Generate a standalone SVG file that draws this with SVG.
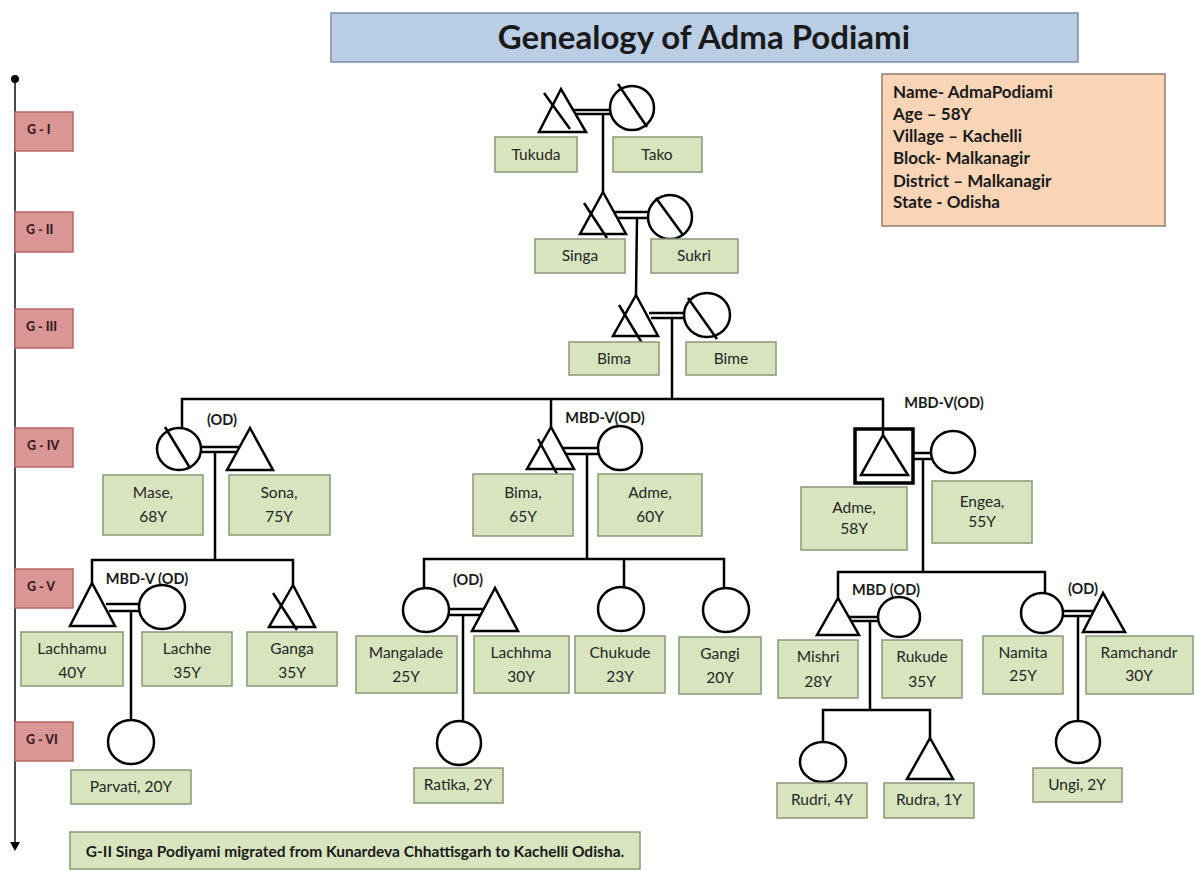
<svg xmlns="http://www.w3.org/2000/svg" width="1195" height="871" viewBox="0 0 1195 871">
<style>
.ln{stroke:#000;stroke-width:2.5;fill:none}
.sym{stroke:#000;stroke-width:2.5;fill:#fff}
.bx{fill:#d7e4bd;stroke:#8a9878;stroke-width:1.5}
.gb{fill:#d99694;stroke:#b86764;stroke-width:1.5}
.t{font-family:Lato,"Liberation Sans",sans-serif;font-size:15.5px;fill:#262626;text-anchor:middle}
.b{font-family:Lato,"Liberation Sans",sans-serif;font-weight:bold;fill:#1a1a1a}
.gt{font-family:Lato,"Liberation Sans",sans-serif;font-weight:900;font-size:12.5px;fill:#3a1c1c}
.lab{font-family:Lato,"Liberation Sans",sans-serif;font-weight:bold;font-size:14.5px;fill:#1a1a1a;text-anchor:middle}
</style>
<rect width="1195" height="871" fill="#fff"/>

<g id="title">
<rect x="331" y="13" width="747" height="49" fill="#b9cde5" stroke="#7d8ea5" stroke-width="1.5"/>
<text class="b" x="704" y="49" font-size="33" text-anchor="middle">Genealogy of Adma Podiami</text>
</g>

<g id="info">
<rect x="882" y="74" width="283" height="152" fill="#fbd5b5" stroke="#8d7d70" stroke-width="1.5"/>
<text class="b" font-size="17" x="893" y="98">Name- AdmaPodiami</text>
<text class="b" font-size="17" x="893" y="120">Age –  58Y</text>
<text class="b" font-size="17" x="893" y="142">Village – Kachelli</text>
<text class="b" font-size="17" x="893" y="164">Block- Malkanagir</text>
<text class="b" font-size="17" x="893" y="187">District – Malkanagir</text>
<text class="b" font-size="17" x="893" y="208">State - Odisha</text>
</g>

<g id="timeline">
<line x1="15" y1="79" x2="15" y2="843" stroke="#4a4a4a" stroke-width="2"/>
<circle cx="15" cy="79" r="4" fill="#000"/>
<polygon points="10,842 20,842 15,851" fill="#000"/>
<g id="g1"><rect class="gb" x="15" y="112" width="58" height="39"/><text class="gt" x="27" y="134">G - I</text></g>
<g id="g2"><rect class="gb" x="15" y="212" width="58" height="40"/><text class="gt" x="26" y="234">G - II</text></g>
<g id="g3"><rect class="gb" x="15" y="309" width="58" height="39"/><text class="gt" x="26" y="331">G - III</text></g>
<g id="g4"><rect class="gb" x="15" y="428" width="58" height="39"/><text class="gt" x="27" y="450">G - IV</text></g>
<g id="g5"><rect class="gb" x="15" y="569" width="58" height="39"/><text class="gt" x="27" y="591">G - V</text></g>
<g id="g6"><rect class="gb" x="15" y="722" width="58" height="39"/><text class="gt" x="26" y="744">G - VI</text></g>
</g>

<g id="connectors">
<line class="ln" x1="574" y1="110" x2="611" y2="110"/><line class="ln" x1="575" y1="114" x2="611" y2="114"/>
<line class="ln" x1="603" y1="114" x2="603" y2="192"/>
<line class="ln" x1="614" y1="212" x2="649" y2="212"/><line class="ln" x1="616" y1="218" x2="649" y2="218"/>
<line class="ln" x1="637" y1="218" x2="636" y2="295"/>
<line class="ln" x1="649" y1="313" x2="685" y2="313"/><line class="ln" x1="651" y1="318" x2="685" y2="318"/>
<line class="ln" x1="672" y1="318" x2="672" y2="399"/>
<polyline class="ln" points="182,428 182,399 883,399 883,435"/>
<line class="ln" x1="551" y1="399" x2="551" y2="427"/>
<line class="ln" x1="201" y1="447" x2="240" y2="447"/><line class="ln" x1="201" y1="452" x2="238" y2="452"/>
<line class="ln" x1="215" y1="452" x2="215" y2="560"/>
<polyline class="ln" points="92,583 92,560 293,560 293,585"/>
<line class="ln" x1="562" y1="448" x2="598" y2="448"/><line class="ln" x1="565" y1="454" x2="598" y2="454"/>
<line class="ln" x1="587" y1="454" x2="587" y2="559"/>
<polyline class="ln" points="424,588 424,559 724,559 724,588"/>
<line class="ln" x1="624" y1="559" x2="624" y2="587"/>
<line class="ln" x1="897" y1="453" x2="931" y2="453"/><line class="ln" x1="900" y1="459" x2="931" y2="459"/>
<line class="ln" x1="923" y1="459" x2="923" y2="572"/>
<polyline class="ln" points="838,598 838,572 1045,572 1045,593"/>
<line class="ln" x1="106" y1="604" x2="140" y2="604"/><line class="ln" x1="109" y1="611" x2="140" y2="611"/>
<line class="ln" x1="131" y1="611" x2="131" y2="720"/>
<line class="ln" x1="448" y1="609" x2="485" y2="609"/><line class="ln" x1="448" y1="615" x2="482" y2="615"/>
<line class="ln" x1="463" y1="615" x2="463" y2="721"/>
<line class="ln" x1="849" y1="617" x2="879" y2="617"/><line class="ln" x1="851" y1="621" x2="879" y2="621"/>
<line class="ln" x1="870" y1="621" x2="870" y2="710"/>
<polyline class="ln" points="823,742 823,710 930,710 930,738"/>
<line class="ln" x1="1062" y1="611" x2="1094" y2="611"/><line class="ln" x1="1062" y1="616" x2="1092" y2="616"/>
<line class="ln" x1="1078" y1="616" x2="1078" y2="721"/>
</g>

<g id="labels">
<text class="lab" x="222" y="425">(OD)</text>
<text class="lab" x="605" y="423">MBD-V(OD)</text>
<text class="lab" x="944" y="408">MBD-V(OD)</text>
<text class="lab" x="147" y="584">MBD-V (OD)</text>
<text class="lab" x="468" y="585">(OD)</text>
<text class="lab" x="886" y="595">MBD (OD)</text>
<text class="lab" x="1083" y="594">(OD)</text>
</g>

<g id="tukuda">
<polygon class="sym" points="561,89 539,132 586,132"/><line class="ln" x1="544" y1="93" x2="570" y2="129"/>
<rect class="bx" x="495" y="137" width="82" height="35"/><text class="t" x="536" y="160">Tukuda</text>
</g>
<g id="tako">
<ellipse class="sym" cx="632" cy="108" rx="22" ry="22"/><line class="ln" x1="618" y1="84" x2="647" y2="127"/>
<rect class="bx" x="613" y="137" width="89" height="35"/><text class="t" x="657" y="160">Tako</text>
</g>
<g id="singa">
<polygon class="sym" points="603,192 580,234 626,234"/><line class="ln" x1="584" y1="203" x2="607" y2="238"/>
<rect class="bx" x="535" y="239" width="90" height="34"/><text class="t" x="580" y="261">Singa</text>
</g>
<g id="sukri">
<ellipse class="sym" cx="670" cy="217" rx="22" ry="22"/><line class="ln" x1="656" y1="198" x2="683" y2="235"/>
<rect class="bx" x="651" y="239" width="87" height="34"/><text class="t" x="694" y="261">Sukri</text>
</g>
<g id="bima3">
<polygon class="sym" points="636,295 613,336 658,336"/><line class="ln" x1="619" y1="305" x2="642" y2="343"/>
<rect class="bx" x="569" y="342" width="90" height="33"/><text class="t" x="614" y="364">Bima</text>
</g>
<g id="bime">
<ellipse class="sym" cx="707" cy="315" rx="23" ry="22"/><line class="ln" x1="688" y1="298" x2="717" y2="339"/>
<rect class="bx" x="686" y="342" width="90" height="33"/><text class="t" x="731" y="364">Bime</text>
</g>

<g id="mase">
<ellipse class="sym" cx="179" cy="449" rx="22" ry="21"/><line class="ln" x1="165" y1="427" x2="190" y2="468"/>
<rect class="bx" x="103" y="475" width="100" height="60"/><text class="t" x="153" y="498">Mase,</text><text class="t" x="153" y="522">68Y</text>
</g>
<g id="sona">
<polygon class="sym" points="250,428 227,470 273,470"/>
<rect class="bx" x="229" y="475" width="101" height="60"/><text class="t" x="279" y="498">Sona,</text><text class="t" x="279" y="522">75Y</text>
</g>
<g id="bima4">
<polygon class="sym" points="551,427 527,469 574,469"/><line class="ln" x1="538" y1="439" x2="557" y2="474"/>
<rect class="bx" x="473" y="474" width="100" height="62"/><text class="t" x="523" y="498">Bima,</text><text class="t" x="523" y="522">65Y</text>
</g>
<g id="adme4">
<ellipse class="sym" cx="620" cy="448" rx="22" ry="22"/>
<rect class="bx" x="598" y="474" width="104" height="62"/><text class="t" x="650" y="498">Adme,</text><text class="t" x="650" y="522">60Y</text>
</g>
<g id="adme-ego">
<rect x="855" y="429" width="58" height="54" fill="#fff" stroke="#000" stroke-width="3.5"/>
<line class="ln" x1="883" y1="429" x2="883" y2="435"/>
<polygon class="sym" points="883,435 861,475 908,475"/>
<rect class="bx" x="801" y="487" width="106" height="63"/><text class="t" x="854" y="513">Adme,</text><text class="t" x="854" y="534">58Y</text>
</g>
<g id="engea">
<ellipse class="sym" cx="953" cy="452" rx="22" ry="21"/>
<rect class="bx" x="932" y="481" width="100" height="62"/><text class="t" x="982" y="507">Engea,</text><text class="t" x="982" y="527">55Y</text>
</g>

<g id="lachhamu">
<polygon class="sym" points="92,583 70,626 115,626"/>
<rect class="bx" x="21" y="632" width="102" height="54"/><text class="t" x="72" y="654">Lachhamu</text><text class="t" x="72" y="678">40Y</text>
</g>
<g id="lachhe">
<ellipse class="sym" cx="162" cy="607" rx="23" ry="22"/>
<rect class="bx" x="142" y="632" width="90" height="54"/><text class="t" x="187" y="654">Lachhe</text><text class="t" x="187" y="678">35Y</text>
</g>
<g id="ganga">
<polygon class="sym" points="293,585 269,627 315,627"/><line class="ln" x1="273" y1="593" x2="297" y2="630"/>
<rect class="bx" x="247" y="632" width="90" height="54"/><text class="t" x="292" y="654">Ganga</text><text class="t" x="292" y="678">35Y</text>
</g>
<g id="parvati">
<ellipse class="sym" cx="131" cy="742" rx="23" ry="22"/>
<rect class="bx" x="71" y="770" width="120" height="34"/><text class="t" x="131" y="792">Parvati, 20Y</text>
</g>

<g id="mangalade">
<ellipse class="sym" cx="426" cy="610" rx="23" ry="22"/>
<rect class="bx" x="356" y="636" width="101" height="57"/><text class="t" x="406" y="658">Mangalade</text><text class="t" x="406" y="682">25Y</text>
</g>
<g id="lachhma">
<polygon class="sym" points="495,588 472,631 518,631"/>
<rect class="bx" x="474" y="636" width="95" height="57"/><text class="t" x="521" y="658">Lachhma</text><text class="t" x="521" y="682">30Y</text>
</g>
<g id="chukude">
<ellipse class="sym" cx="621" cy="609" rx="23" ry="22"/>
<rect class="bx" x="575" y="636" width="90" height="57"/><text class="t" x="620" y="658">Chukude</text><text class="t" x="620" y="682">23Y</text>
</g>
<g id="gangi">
<ellipse class="sym" cx="726" cy="610" rx="23" ry="22"/>
<rect class="bx" x="679" y="637" width="82" height="57"/><text class="t" x="720" y="659">Gangi</text><text class="t" x="720" y="683">20Y</text>
</g>
<g id="ratika">
<ellipse class="sym" cx="459" cy="743" rx="22" ry="22"/>
<rect class="bx" x="414" y="768" width="89" height="35"/><text class="t" x="458" y="790">Ratika, 2Y</text>
</g>

<g id="mishri">
<polygon class="sym" points="838,598 817,635 859,635"/>
<rect class="bx" x="778" y="640" width="80" height="58"/><text class="t" x="818" y="662">Mishri</text><text class="t" x="818" y="687">28Y</text>
</g>
<g id="rukude">
<ellipse class="sym" cx="899" cy="617" rx="21" ry="20"/>
<rect class="bx" x="882" y="640" width="80" height="58"/><text class="t" x="922" y="662">Rukude</text><text class="t" x="922" y="687">35Y</text>
</g>
<g id="rudri">
<ellipse class="sym" cx="823" cy="762" rx="23" ry="20"/>
<rect class="bx" x="777" y="783" width="90" height="35"/><text class="t" x="822" y="805">Rudri, 4Y</text>
</g>
<g id="rudra">
<polygon class="sym" points="930,738 907,779 953,779"/>
<rect class="bx" x="884" y="783" width="90" height="35"/><text class="t" x="929" y="805">Rudra, 1Y</text>
</g>
<g id="namita">
<ellipse class="sym" cx="1042" cy="613" rx="21" ry="20"/>
<rect class="bx" x="983" y="636" width="80" height="58"/><text class="t" x="1023" y="658">Namita</text><text class="t" x="1023" y="681">25Y</text>
</g>
<g id="ramchandr">
<polygon class="sym" points="1103,593 1083,632 1125,632"/>
<rect class="bx" x="1086" y="636" width="107" height="58"/><text class="t" x="1139" y="658">Ramchandr</text><text class="t" x="1139" y="681">30Y</text>
</g>
<g id="ungi">
<ellipse class="sym" cx="1078" cy="742" rx="22" ry="21"/>
<rect class="bx" x="1033" y="768" width="89" height="34"/><text class="t" x="1077" y="790">Ungi, 2Y</text>
</g>

<g id="footer">
<rect class="bx" x="70" y="832" width="570" height="37"/>
<text class="b" x="355" y="857" font-size="15.5" text-anchor="middle">G-II Singa Podiyami migrated from Kunardeva Chhattisgarh to Kachelli Odisha.</text>
</g>
</svg>
